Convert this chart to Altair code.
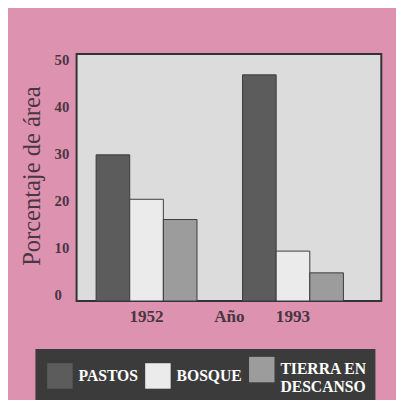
import altair as alt
import pandas as pd

years = ["1952", "1993"]
categories = ["PASTOS", "BOSQUE", "TIERRA EN DESCANSO"]
pastos = [29.6, 45.8]
bosque = [20.6, 10.1]
tierra = [16.5, 5.7]
y_ticks = [0, 10, 20, 30, 40, 50]
colors = ["#5c5c5c", "#ebebeb", "#9c9c9c"]

rows = []
for i, yr in enumerate(years):
    for cat, series in zip(categories, [pastos, bosque, tierra]):
        rows.append({"year": yr, "cat": cat, "value": series[i]})
df = pd.DataFrame(rows)

FONT = "Liberation Serif"
TXT = "#4a3542"

chart = alt.Chart(df).mark_bar(stroke="#3a3a3a", strokeWidth=1).encode(
    x=alt.X("year:N", sort=years,
            scale=alt.Scale(paddingInner=0.311, paddingOuter=0.196, align=0.34),
            axis=alt.Axis(title="Año", labelAngle=0, domain=False, ticks=False,
                          labelFont=FONT, labelFontSize=17.5, labelFontWeight="bold",
                          labelColor=TXT, labelPadding=7,
                          titleFont=FONT, titleFontSize=17.5, titleFontWeight="bold",
                          titleColor=TXT, titleY=21, titleBaseline="alphabetic")),
    xOffset=alt.XOffset("cat:N", sort=categories,
                        scale=alt.Scale(paddingInner=0, paddingOuter=0)),
    y=alt.Y("value:Q", scale=alt.Scale(domain=[0, 50], nice=False),
            axis=alt.Axis(values=y_ticks, grid=False, ticks=False, domain=False,
                          title="Porcentaje de área",
                          labelFont=FONT, labelFontSize=15, labelFontWeight="bold",
                          labelColor=TXT, labelPadding=23, labelAlign="left",
                          labelOffset={"condition": {"test": "datum.value == 0", "value": -7},
                                       "expr": "-7 + 13 * datum.value / 50"},
                          titleFont=FONT, titleFontSize=25, titleFontWeight="normal",
                          titleColor=TXT, titleX=-38, titleY=124,
                          titleBaseline="alphabetic", titleAngle=270)),
    color=alt.Color("cat:N", sort=categories,
                    scale=alt.Scale(domain=categories, range=colors),
                    legend=alt.Legend(title=None, orient="none", legendX=-42, legendY=301,
                                      direction="horizontal", fillColor="#3b3b3b",
                                      padding=8, symbolType="square", symbolSize=676,
                                      symbolOffset=4,
                                      symbolStrokeWidth=0, symbolOpacity=1,
                                      labelColor="white", labelFont=FONT,
                                      labelFontSize=16, labelFontWeight="bold",
                                      labelLimit=300, labelOffset=6, columnPadding=3,
                                      labelExpr="datum.label == 'TIERRA EN DESCANSO' ? ['TIERRA EN', 'DESCANSO'] : datum.label")),
).properties(
    width=311, height=252,
    autosize=alt.AutoSizeParams(type="none"),
    padding={"left": 70, "top": 43, "right": 15, "bottom": 97},
    background="#dd92af",
).configure_view(
    fill="#dddcdc", stroke="#333333", strokeWidth=2,
)

chart.save("out.html", embed_options={"renderer": "svg", "actions": False})
